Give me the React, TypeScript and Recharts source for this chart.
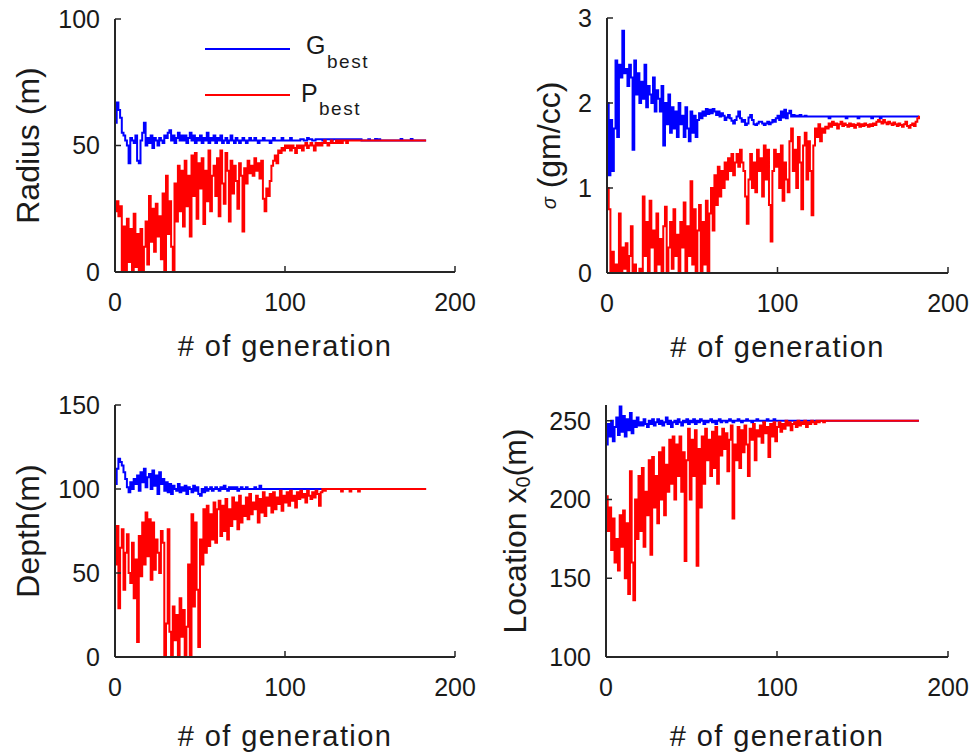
import React from 'react';
import { LineChart, Line, XAxis, YAxis, Legend } from 'recharts';

const FONT = '"Liberation Sans", Arial, Helvetica, sans-serif';
const TEXT = '#1a1a1a';
const AXIS = '#262626';
const BLUE = '#0000ff';
const RED = '#ff0000';

const xTicks = [0, 100, 200];
const radiusTicks = [0, 50, 100];
const sigmaTicks = [0, 1, 2, 3];
const depthTicks = [0, 50, 100, 150];
const locationTicks = [100, 150, 200, 250];
const xLabelText = '# of generation';
const legendItems = [
  { main: 'G', sub: 'best', color: BLUE },
  { main: 'P', sub: 'best', color: RED },
];

// Radius (m)
const radiusGbest = [
  59, 67, 64, 61, 55, 54, 52, 50, 43, 53,
  52, 51, 54, 44, 43, 52, 55, 59, 50, 53,
  51, 54, 49, 53, 52, 50, 53, 52, 51, 54,
  53, 55, 56, 52, 54, 51, 53, 55, 52, 54,
  52, 54, 51, 53, 55, 52, 54, 51, 53, 52,
  54, 51, 53, 52, 55, 51, 53, 52, 54, 51,
  53, 52, 54, 51, 52, 53, 51, 52, 54, 52,
  51, 53, 52, 51, 52, 53, 52, 51, 52, 53,
  52, 52, 53, 52, 51, 52, 52, 53, 52, 52,
  52, 51, 52, 53, 52, 52, 52, 52, 53, 52,
  52, 52, 52, 53, 52, 52, 52, 52, 52, 52.5,
  52.5, 52, 52, 53, 52.5, 52.5, 52, 52, 52.5, 52.5,
  52.5, 52.5, 52, 52.5, 52.5, 52.5, 52.5, 52, 52.5, 52.5,
  52.5, 52.5, 52.5, 52.5, 52.5, 52.5, 52.5, 52.5, 52.5, 52.5,
  52.5, 52.5, 52.5, 52.5, 52.5, 52, 52, 52, 52, 52.5,
  52, 52, 52, 52.6, 52, 52.5, 52, 52, 52, 52,
  52, 52, 52, 52, 52, 52, 52, 52, 52.6, 52,
  52, 52, 52, 52, 52.6, 52, 52, 52, 52, 52,
  52, 52, 52, 52,
];
const radiusPbest = [
  24, 28, 22, 26, 0, 18, 0, 21, 4, 17,
  0, 23, 2, 15, 0, 17, 0, 10, 20, 3,
  30, 12, 25, 8, 27, 14, 22, 5, 31, 0,
  38, 15, 28, 10, 0, 35, 20, 42, 24, 40,
  18, 44, 26, 38, 14, 46, 30, 47, 21, 43,
  33, 45, 19, 40, 28, 48, 24, 38, 42, 30,
  45, 22, 48, 35, 27, 47, 40, 20, 44, 31,
  42, 36, 25, 43, 38, 16, 41, 35, 44, 39,
  42, 38, 45, 40, 43, 37, 44, 29, 24, 33,
  30, 36, 42, 44, 46, 43, 48, 47, 49, 48,
  50, 49, 50, 48, 50, 49, 47, 50, 49, 50,
  48, 50, 51, 49, 50, 51, 50, 48, 51, 50,
  51, 50, 51, 52, 51, 50, 51, 52, 51, 51,
  52, 51, 52, 51, 52, 52, 51, 52, 52, 52,
  52, 52, 52, 52, 52, 52, 52, 52, 52, 52,
  52, 52, 52, 52, 52, 52, 52, 52, 52, 52,
  52, 52, 52, 52, 52, 52, 52, 52, 52, 52,
  52, 52, 52, 52, 52, 52, 52, 52, 52, 52,
  52, 52, 52, 52,
];

// sigma (gm/cc)
const sigmaGbest = [
  2.0, 1.15, 1.8, 1.2, 1.7, 2.5, 1.6, 2.45, 2.3, 2.85,
  2.35, 2.4, 2.2, 2.45, 2.3, 1.45, 2.5, 2.1, 2.35, 2.0,
  2.25, 2.05, 2.45, 1.95, 2.2, 2.1, 2.0, 2.3, 1.9, 2.15,
  2.05, 1.9, 2.2, 1.5, 2.0, 1.75, 2.1, 1.65, 1.95, 1.7,
  1.9, 1.6, 2.0, 1.75, 1.85, 1.6, 1.95, 1.7, 1.55, 1.9,
  1.65, 1.85, 1.6, 1.8, 1.88, 1.82, 1.9, 1.85, 1.93, 1.87,
  1.92, 1.88, 1.93, 1.9, 1.86, 1.9, 1.84, 1.88, 1.85, 1.8,
  1.83, 1.86, 1.82, 1.79, 1.76, 1.8, 1.84, 1.9, 1.82, 1.78,
  1.8, 1.74, 1.76, 1.83, 1.86, 1.8, 1.75, 1.74, 1.76, 1.78,
  1.78, 1.76, 1.74, 1.76, 1.78, 1.75, 1.77, 1.8, 1.78, 1.82,
  1.85, 1.8, 1.9, 1.83, 1.92, 1.82, 1.88, 1.91, 1.84, 1.86,
  1.84, 1.85, 1.84, 1.86, 1.84, 1.84, 1.85, 1.84, 1.84, 1.84,
  1.84, 1.84, 1.84, 1.84, 1.84, 1.84, 1.84, 1.84, 1.84, 1.84,
  1.82, 1.84, 1.84, 1.84, 1.84, 1.84, 1.84, 1.84, 1.84, 1.84,
  1.82, 1.84, 1.84, 1.84, 1.84, 1.84, 1.84, 1.82, 1.84, 1.84,
  1.84, 1.84, 1.84, 1.84, 1.84, 1.82, 1.84, 1.84, 1.84, 1.84,
  1.82, 1.84, 1.84, 1.84, 1.84, 1.84, 1.84, 1.84, 1.84, 1.84,
  1.84, 1.84, 1.84, 1.84, 1.84, 1.84, 1.84, 1.84, 1.84, 1.84,
  1.84, 1.84, 1.84, 1.84,
];
const sigmaPbest = [
  1.0, 0.75, 0, 0.25, 0, 0.1, 0, 0.7, 0, 0.3,
  0.05, 0.35, 0, 0.2, 0.55, 0, 0.1, 0, 0, 0.05,
  0, 0.9, 0.2, 0.6, 0, 0.85, 0.3, 0.5, 0, 0.7,
  0.1, 0.4, 0, 0.55, 0.78, 0, 0.3, 0.6, 0.05, 0.75,
  0.2, 0.45, 0, 0.6, 0.3, 0.83, 0, 0.55, 0.2, 1.08,
  0.1, 0.75, 0, 0.5, 0.8, 0, 0.6, 0.1, 0.85, 0,
  0.7, 1.0, 0.5, 1.15, 0.8, 1.25, 0.9, 1.2, 1.0, 1.3,
  1.1, 1.35, 1.2, 1.4, 1.15, 1.3, 1.4, 1.25, 1.45, 1.3,
  1.2, 0.9, 0.58, 1.1, 1.4, 1.0, 1.3, 0.95, 1.45, 1.2,
  1.35, 0.9, 1.5, 1.1, 1.45, 0.8, 0.37, 1.2, 1.45, 1.25,
  1.4, 1.0, 1.5, 0.85, 1.3, 1.1, 0.95, 1.55, 1.7, 1.2,
  1.45, 1.0, 1.6, 1.3, 0.75, 1.5, 1.65, 1.1, 1.55, 1.2,
  0.68, 1.5, 1.7, 1.6, 1.75, 1.55, 1.7, 1.65, 1.72, 1.7,
  1.76, 1.72, 1.78, 1.74, 1.76, 1.7, 1.75, 1.78, 1.73, 1.76,
  1.74, 1.72, 1.76, 1.73, 1.75, 1.71, 1.74, 1.76, 1.72, 1.75,
  1.73, 1.76, 1.74, 1.72, 1.75, 1.73, 1.76, 1.74, 1.78, 1.8,
  1.78, 1.76, 1.8, 1.77, 1.75, 1.78, 1.76, 1.74, 1.77, 1.75,
  1.73, 1.76, 1.74, 1.72, 1.75, 1.78, 1.73, 1.71, 1.74, 1.76,
  1.73, 1.78, 1.82, 1.85,
];

// Depth (m)
const depthGbest = [
  103, 112, 118, 116, 114, 110, 106, 101, 98, 104,
  100, 106, 103, 108, 99, 110, 104, 112, 101, 107,
  109, 100, 111, 102, 108, 97, 110, 103, 106, 99,
  104, 98, 103, 97, 102, 100, 99, 103, 98, 101,
  99, 102, 97, 101, 100, 98, 102, 99, 101, 97,
  96, 100, 98, 101, 99, 100, 101, 99, 100, 101,
  100, 99, 101, 100, 102, 100, 99, 101, 100, 101,
  100, 101, 99, 100, 101, 100, 100, 101, 100, 100,
  100, 100, 101, 100, 100, 102, 100, 100, 100, 100,
  100, 100, 100, 100, 100, 100, 100, 100, 100, 100,
  100, 100, 100, 100, 100, 100, 100, 100, 100, 100,
  100, 100, 100, 100, 100, 100, 100, 100, 100, 100,
  100, 100, 100, 100, 100, 100, 100, 100, 100, 100,
  100, 100, 100, 100, 100, 100, 100, 100, 100, 100,
  100, 100, 100, 100, 100, 100, 100, 100, 100, 100,
  100, 100, 100, 100, 100, 100, 100, 100, 100, 100,
  100, 100, 100, 100, 100, 100, 100, 100, 100, 100,
  100, 100, 100, 100, 100, 100, 100, 100, 100, 100,
  100, 100, 100, 100,
];
const depthPbest = [
  55, 78, 29, 65, 76, 40, 62, 73, 50, 44,
  68, 35, 58, 9, 72, 48, 80, 55, 86, 60,
  82, 46, 80, 52, 70, 62, 50, 75, 68, 0,
  20, 76, 15, 0, 30, 10, 25, 0, 35, 12,
  28, 0, 18, 55, 0, 85, 30, 80, 40, 6,
  70, 55, 88, 62, 90, 66, 85, 70, 92, 68,
  88, 93, 72, 90, 75, 94, 70, 88, 78, 95,
  82, 92, 76, 96, 80, 90, 84, 95, 82, 97,
  85, 92, 88, 96, 80, 94, 86, 98, 84, 95,
  90, 97, 86, 98, 88, 95, 91, 99, 87, 96,
  92, 98, 90, 99, 93, 96, 89, 98, 94, 99,
  95, 97, 92, 99, 96, 94, 98, 95, 99, 97,
  90, 98, 100, 99, 100, 100, 100, 100, 100, 100,
  100, 100, 100, 98.5, 100, 100, 100, 100, 98.5, 100,
  100, 100, 100, 98.5, 100, 100, 100, 100, 100, 100,
  100, 100, 100, 100, 100, 100, 100, 100, 100, 100,
  100, 100, 100, 100, 100, 100, 100, 100, 100, 100,
  100, 100, 100, 100, 100, 100, 100, 100, 100, 100,
  100, 100, 100, 100,
];

// Location x0 (m)
const locationGbest = [
  235, 248, 240, 250, 237, 246, 252, 241, 259, 243,
  253, 240, 251, 244, 255, 242, 250, 246, 252, 247,
  249, 247, 251, 248, 246, 250, 248, 251, 247, 249,
  251, 248, 250, 247, 249, 252, 248, 250, 246, 249,
  250, 248, 251, 249, 247, 250, 249, 251, 248, 250,
  249, 251, 248, 250, 249, 251, 250, 248, 250, 249,
  250, 251, 249, 250, 248, 250, 251, 249, 250, 250,
  249, 250, 251, 250, 249, 250, 250, 251, 250, 249,
  250, 250, 251, 250, 250, 249, 250, 250, 251, 250,
  250, 250, 249, 250, 251, 250, 250, 250, 251, 250,
  250, 250, 250, 250, 250, 250, 250, 250, 250, 250,
  250, 250, 250, 250, 250, 250, 250, 250, 250, 250,
  250, 250, 250, 250, 250, 250, 250, 250, 250, 250,
  250, 250, 250, 250, 250, 250, 250, 250, 250, 250,
  250, 250, 250, 250, 250, 250, 250, 250, 250, 250,
  250, 250, 250, 250, 250, 250, 250, 250, 250, 250,
  250, 250, 250, 250, 250, 250, 250, 250, 250, 250,
  250, 250, 250, 250, 250, 250, 250, 250, 250, 250,
  250, 250, 250, 250,
];
const locationPbest = [
  202, 180, 195, 168, 188, 160, 175, 155, 190, 170,
  193, 150, 185, 140, 218, 160, 136, 200, 175, 215,
  180, 220, 170, 205, 190, 225, 165, 227, 195, 215,
  185, 230, 200, 233, 190, 222, 205, 238, 210, 240,
  200, 235, 215, 240, 205, 230, 161, 225, 245, 200,
  238, 215, 244, 158, 232, 195, 240, 210, 245, 225,
  238, 215, 243, 220, 246, 210, 240, 228, 245, 232,
  242, 218, 238, 247, 188, 235, 225, 246, 220, 244,
  230, 247, 235, 215, 245, 238, 248, 225, 244, 240,
  247, 236, 249, 242, 246, 227, 248, 240, 249, 237,
  246, 249, 243, 248, 245, 250, 247, 249, 244, 248,
  249, 246, 250, 247, 249, 248, 250, 246, 249, 248,
  250, 249, 248, 250, 249, 250, 250, 249, 250, 250,
  250, 250, 250, 250, 250, 250, 250, 250, 250, 250,
  250, 250, 250, 250, 250, 250, 250, 250, 250, 250,
  250, 250, 250, 250, 250, 250, 250, 250, 250, 250,
  250, 250, 250, 250, 250, 250, 250, 250, 250, 250,
  250, 250, 250, 250, 250, 250, 250, 250, 250, 250,
  250, 250, 250, 250,
];

const toPoints = (arr: number[]) => arr.map((v, i) => ({ g: i, v }));

function LegendBox() {
  // wrapper placed at (195, 28)
  const rows = [
    { lineY: 21, mainX: 111, mainY: 26, subX: 132, subY: 40 },
    { lineY: 67, mainX: 106, mainY: 74, subX: 124, subY: 87 },
  ];
  return (
    <svg width={200} height={100} style={{ display: 'block', overflow: 'visible' }}>
      {legendItems.map((it, i) => {
        const r = rows[i];
        return (
          <g key={it.main}>
            <line x1={10} x2={95} y1={r.lineY} y2={r.lineY} stroke={it.color} strokeWidth={2} />
            <text x={r.mainX} y={r.mainY} fontSize={25} fontFamily={FONT} fill={TEXT}>{it.main}</text>
            <text x={r.subX} y={r.subY} fontSize={19} fontFamily={FONT} fill={TEXT} style={{ letterSpacing: '1.5px' }}>{it.sub}</text>
          </g>
        );
      })}
    </svg>
  );
}

type PanelProps = {
  left: number;
  top: number;
  width: number;
  height: number;
  plotLeft: number;
  plotTop: number;
  plotRight: number;
  plotBottom: number;
  yDomain: [number, number];
  yTicks: number[];
  gbest: number[];
  pbest: number[];
  yLabel: (cx: number, cy: number) => React.ReactNode;
  yLabelX: number;
  xLabelBaseline: number;
  legend?: boolean;
};

function Panel(p: PanelProps) {
  const xLabel = (props: any) => {
    const vb = props.viewBox || {};
    const cx = vb.x + vb.width / 2;
    const y = vb.y + p.xLabelBaseline;
    return (
      <text x={cx} y={y} textAnchor="middle" fontSize={29} fontFamily={FONT} fill={TEXT} style={{ letterSpacing: '1.4px' }}>
        {xLabelText}
      </text>
    );
  };
  const yLabel = (props: any) => {
    const vb = props.viewBox || {};
    const cx = vb.x + p.yLabelX;
    const cy = vb.y + vb.height / 2;
    return <g>{p.yLabel(cx, cy)}</g>;
  };
  return (
    <div style={{ position: 'absolute', left: p.left, top: p.top }}>
      <LineChart
        width={p.width}
        height={p.height}
        margin={{ top: p.plotTop, right: p.width - p.plotRight, bottom: 0, left: 0 }}
      >
        <XAxis
          dataKey="g"
          type="number"
          domain={[0, 200]}
          ticks={xTicks}
          interval={0}
          height={p.height - p.plotBottom}
          axisLine={{ stroke: AXIS, strokeWidth: 2 }}
          tickLine={{ stroke: AXIS, strokeWidth: 1.5 }}
          tickSize={-6}
          tickMargin={27}
          tick={{ fontSize: 25, fill: TEXT, fontFamily: FONT }}
          label={xLabel}
        />
        <YAxis
          type="number"
          domain={p.yDomain}
          ticks={p.yTicks}
          interval={0}
          width={p.plotLeft}
          axisLine={{ stroke: AXIS, strokeWidth: 2 }}
          tickLine={{ stroke: AXIS, strokeWidth: 1.5 }}
          tickSize={-6}
          tickMargin={21}
          tick={{ fontSize: 25, fill: TEXT, fontFamily: FONT }}
          label={yLabel}
        />
        <Line
          data={toPoints(p.gbest)}
          dataKey="v"
          name="Gbest"
          type="stepAfter"
          stroke={BLUE}
          strokeWidth={2}
          dot={false}
          activeDot={false}
          isAnimationActive={false}
        />
        <Line
          data={toPoints(p.pbest)}
          dataKey="v"
          name="Pbest"
          type="stepAfter"
          stroke={RED}
          strokeWidth={2}
          dot={false}
          activeDot={false}
          isAnimationActive={false}
        />
        {p.legend && (
          <Legend
            layout="vertical"
            align="center"
            verticalAlign="middle"
            wrapperStyle={{ left: 195, top: 28, width: 200, height: 100 }}
            content={() => <LegendBox />}
          />
        )}
      </LineChart>
    </div>
  );
}

const rotText = (cx: number, cy: number, children: React.ReactNode) => (
  <text
    x={cx}
    y={cy}
    transform={`rotate(-90 ${cx} ${cy})`}
    textAnchor="middle"
    dominantBaseline="central"
    fontSize={32}
    fontFamily={FONT}
    fill={TEXT}
  >
    {children}
  </text>
);

export default function App() {
  return (
    <div style={{ position: 'absolute', left: 0, top: 0, width: 973, height: 754, background: '#fff', overflow: 'hidden' }}>
      <Panel
        left={0} top={0} width={486} height={377}
        plotLeft={115} plotTop={19} plotRight={455} plotBottom={272}
        yDomain={[0, 100]} yTicks={radiusTicks}
        gbest={radiusGbest} pbest={radiusPbest}
        yLabelX={28}
        yLabel={(cx, cy) => rotText(cx, cy, 'Radius (m)')}
        xLabelBaseline={84}
        legend
      />
      <Panel
        left={486} top={0} width={487} height={377}
        plotLeft={121} plotTop={18} plotRight={462} plotBottom={273}
        yDomain={[0, 3]} yTicks={sigmaTicks}
        gbest={sigmaGbest} pbest={sigmaPbest}
        yLabelX={63}
        yLabel={(cx, cy) => rotText(cx, cy, (
          <>
            <tspan fontSize={20} fontStyle="italic">σ</tspan>
            <tspan> (gm/cc)</tspan>
          </>
        ))}
        xLabelBaseline={84}
      />
      <Panel
        left={0} top={377} width={486} height={377}
        plotLeft={115} plotTop={28} plotRight={455} plotBottom={280}
        yDomain={[0, 150]} yTicks={depthTicks}
        gbest={depthGbest} pbest={depthPbest}
        yLabelX={28}
        yLabel={(cx, cy) => rotText(cx, cy, 'Depth(m)')}
        xLabelBaseline={89}
      />
      <Panel
        left={486} top={377} width={487} height={377}
        plotLeft={120} plotTop={28} plotRight={462} plotBottom={280}
        yDomain={[100, 260]} yTicks={locationTicks}
        gbest={locationGbest} pbest={locationPbest}
        yLabelX={29}
        yLabel={(cx, cy) => rotText(cx, cy, (
          <>
            <tspan>Location x</tspan>
            <tspan fontSize={20} dy={8}>0</tspan>
            <tspan dy={-8}>(m)</tspan>
          </>
        ))}
        xLabelBaseline={89}
      />
    </div>
  );
}
